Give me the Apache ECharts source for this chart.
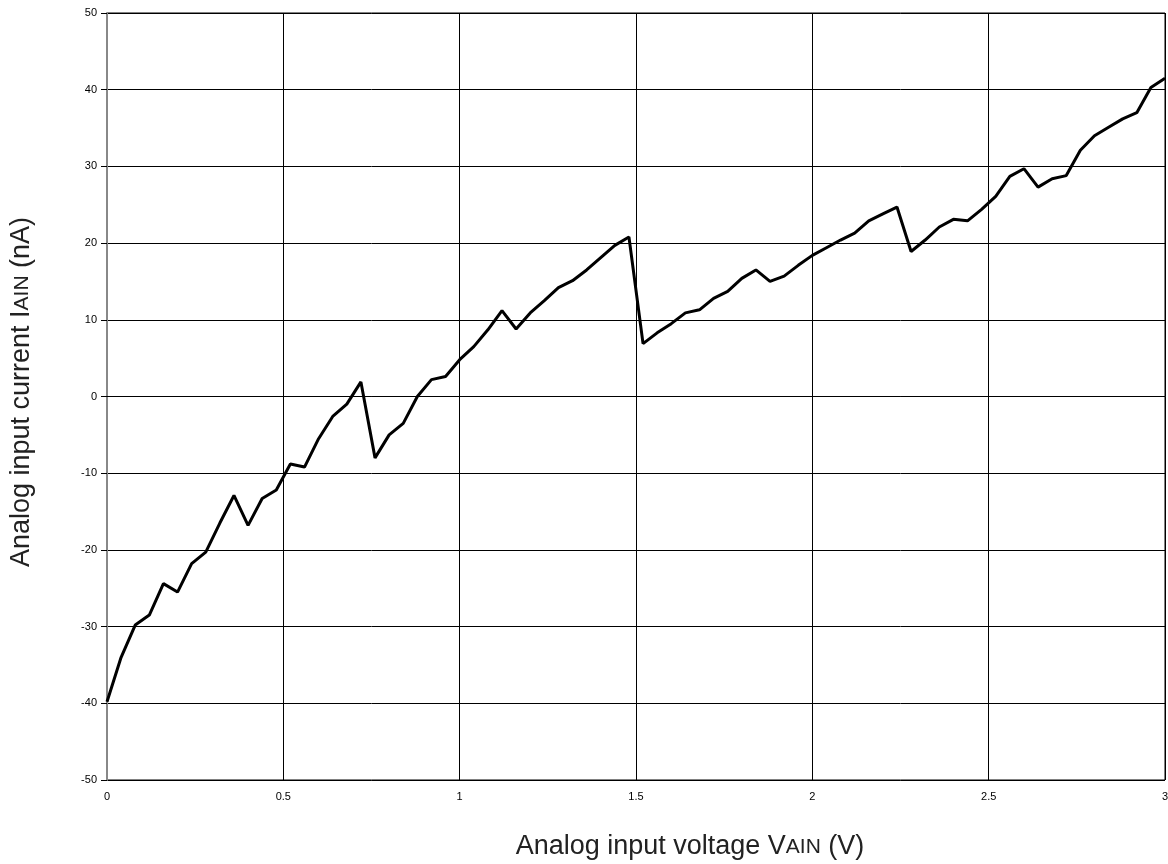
<!DOCTYPE html>
<html><head><meta charset="utf-8">
<script src="https://cdn.jsdelivr.net/npm/echarts@6/dist/echarts.min.js"></script>
<style>html,body{margin:0;padding:0;background:#fff}#c{width:1168px;height:864px}</style>
</head><body><div id="c"></div>
<script>
const voltages = [0,0.04,0.08,0.12,0.16,0.20,0.24,0.28,0.32,0.36,0.40,0.44,0.48,0.52,0.56,0.60,0.64,0.68,0.72,0.76,0.80,0.84,0.88,0.92,0.96,1.00,1.04,1.08,1.12,1.16,1.20,1.24,1.28,1.32,1.36,1.40,1.44,1.48,1.52,1.56,1.60,1.64,1.68,1.72,1.76,1.80,1.84,1.88,1.92,1.96,2.00,2.04,2.08,2.12,2.16,2.20,2.24,2.28,2.32,2.36,2.40,2.44,2.48,2.52,2.56,2.60,2.64,2.68,2.72,2.76,2.80,2.84,2.88,2.92,2.96,3.00];
const currents = [-39.8,-34.0,-29.8,-28.5,-24.4,-25.5,-21.8,-20.3,-16.5,-12.9,-16.8,-13.3,-12.2,-8.8,-9.2,-5.5,-2.6,-1.0,1.9,-8.0,-5.0,-3.5,0.0,2.2,2.6,4.8,6.5,8.7,11.2,8.8,10.9,12.5,14.2,15.1,16.5,18.1,19.7,20.8,6.9,8.3,9.5,10.9,11.3,12.8,13.7,15.4,16.5,15.0,15.7,17.1,18.4,19.4,20.4,21.3,22.9,23.8,24.7,18.9,20.4,22.1,23.1,22.9,24.4,26.1,28.7,29.7,27.3,28.4,28.8,32.1,34.0,35.1,36.2,37.0,40.3,41.5];
const xTitle = ['Analog input voltage V', 'AIN', ' (V)'];
const yTitle = ['Analog input current I', 'AIN', ' (nA)'];

const chart = echarts.init(document.getElementById('c'), null, {renderer:'canvas'});
const font = 'Liberation Sans, Arial, sans-serif';
const rich = {a:{fontSize:27, fontFamily:font, fill:'#222', color:'#222'}, s:{fontSize:21, fontFamily:font, fill:'#222', color:'#222'}};
chart.setOption({
  animation:false,
  grid:{left:107, right:3, top:13, bottom:84, show:true, borderColor:'#000', borderWidth:1, outerBoundsMode:'none', containLabel:false},
  xAxis:{type:'value', min:0, max:3, interval:0.5,
    axisLine:{show:true, lineStyle:{color:'#000', width:1}},
    axisTick:{show:false},
    splitLine:{show:true, lineStyle:{color:'#000', width:1}},
    axisLabel:{color:'#000', fontSize:11, fontFamily:font, margin:11}
  },
  yAxis:{type:'value', min:-50, max:50, interval:10,
    axisLine:{show:true, lineStyle:{color:'#888', width:2}},
    axisTick:{show:true, length:6, lineStyle:{color:'#000'}},
    splitLine:{show:true, lineStyle:{color:'#000', width:1}},
    axisLabel:{color:'#000', fontSize:11, fontFamily:font, margin:10}
  },
  graphic:[
    {type:'text', x:690, y:847, style:{
      x:0, y:0, align:'center', verticalAlign:'middle', rich:rich,
      text:'{a|'+xTitle[0]+'}{s|'+xTitle[1]+'}{a|'+xTitle[2]+'}'
    }},
    {type:'text', x:22, y:392, rotation:Math.PI/2, style:{
      x:0, y:0, align:'center', verticalAlign:'middle', rich:rich,
      text:'{a|'+yTitle[0]+'}{s|'+yTitle[1]+'}{a|'+yTitle[2]+'}'
    }}
  ],
  series:[{type:'line', data:voltages.map((v,i)=>[v,currents[i]]), showSymbol:false,
    lineStyle:{color:'#000', width:3}, z:5}]
});
</script></body></html>
